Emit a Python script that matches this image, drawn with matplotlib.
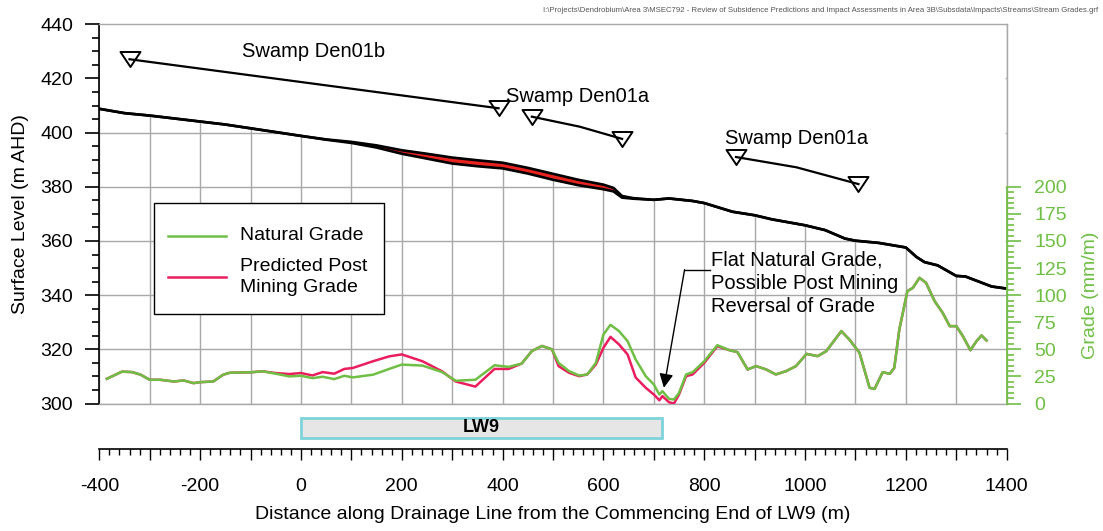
import matplotlib
matplotlib.use("Agg")
import matplotlib.pyplot as plt
from matplotlib.ticker import MultipleLocator, FixedLocator, FuncFormatter
from matplotlib.patches import Rectangle
from matplotlib.lines import Line2D
from matplotlib.path import Path

plt.rcParams['font.family'] = ['Liberation Sans', 'DejaVu Sans']

# Natural surface profile along the drainage line (m AHD)
surface_dist = [-400, -350, -300, -250, -200, -150, -100, -50, 0, 50, 100, 150, 200,
                250, 300, 350, 400, 450, 500, 550, 600, 620, 637, 660, 700, 730, 776,
                800, 856, 900, 934, 1000, 1040, 1079, 1100, 1146, 1200, 1221, 1237,
                1263, 1300, 1318, 1370, 1397]
natural_surface = [408.8, 407.2, 406.3, 405.2, 404.1, 403.0, 401.6, 400.2, 398.8, 397.5,
                   396.6, 395.3, 393.5, 392.2, 390.8, 389.8, 388.9, 387.0, 384.8, 382.6,
                   380.8, 379.6, 376.6, 375.8, 375.2, 375.7, 374.8, 374.0, 370.8, 369.5,
                   368.0, 365.8, 364.0, 360.9, 360.1, 359.3, 357.6, 354.1, 352.2, 351.0,
                   347.1, 346.9, 343.2, 342.5]
# Predicted subsidence at the same chainages (m)
subsidence = [0, 0, 0, 0, 0, 0, 0, 0, 0, 0.1, 0.4, 0.8, 1.3, 1.8, 2.2, 2.2, 2.1, 2.1, 2.2,
              2.0, 1.7, 1.3, 0.6, 0.2, 0, 0, 0, 0, 0, 0, 0, 0, 0, 0, 0, 0, 0, 0, 0, 0,
              0, 0, 0, 0]

# Swamp extents (chainage, m AHD)
den01b_dist = [-340, 392]
den01b_level = [427.1, 409.0]
den01a_upper_dist = [458, 553, 637]
den01a_upper_level = [405.9, 402.2, 397.7]
den01a_lower_dist = [863, 983, 1106]
den01a_lower_level = [391.0, 387.2, 381.0]

# Stream grades (mm/m)
grade_dist = [-385, -355, -335, -318, -300, -279, -252, -233, -213, -200, -174, -154,
              -141, -100, -76, -50, -23, 0, 23, 43, 66, 86, 103, 143, 175, 200, 241,
              280, 307, 346, 384, 412, 438, 458, 478, 498, 511, 532, 552, 568, 585,
              600, 614, 631, 648, 664, 684, 700, 711, 717, 730, 740, 750, 764, 777,
              800, 826, 850, 866, 886, 903, 923, 942, 962, 982, 1003, 1025, 1042,
              1072, 1088, 1108, 1128, 1138, 1154, 1168, 1177, 1187, 1203, 1214, 1227,
              1240, 1257, 1273, 1287, 1300, 1313, 1328, 1340, 1350, 1360]
natural_grade = [22.8, 29.4, 29.0, 26.6, 21.9, 21.9, 20.3, 21.3, 18.8, 19.7, 20.3, 26.6,
                 28.4, 28.8, 29.7, 27.5, 25.0, 25.6, 23.4, 24.7, 22.5, 25.6, 24.1, 26.6,
                 31.9, 35.9, 35.0, 29.0, 21.0, 21.9, 35.3, 33.8, 36.9, 48.4, 53.1, 50.0,
                 37.5, 29.8, 25.8, 26.8, 37.5, 63.7, 72.6, 66.8, 57.5, 40.6, 25.2, 17.5,
                 8.3, 11.4, 4.3, 3.7, 9.8, 26.8, 28.9, 39.0, 53.8, 49.2, 47.4, 31.4,
                 34.5, 31.4, 26.8, 29.8, 34.5, 45.8, 43.7, 48.3, 66.8, 59.0, 46.8, 14.5,
                 13.5, 28.9, 27.4, 32.9, 68.3, 103.7, 106.8, 116.0, 111.4, 94.5, 83.7,
                 71.4, 71.4, 62.2, 49.2, 57.5, 62.8, 58.2]
predicted_grade = [22.8, 29.4, 29.0, 26.6, 21.9, 21.9, 20.3, 21.3, 18.8, 19.7, 20.3, 26.6,
                   28.4, 28.8, 29.7, 28.1, 27.2, 28.1, 25.9, 29.0, 27.5, 31.9, 32.8, 39.0,
                   43.5, 45.3, 39.0, 29.7, 20.3, 15.6, 31.9, 31.9, 36.9, 48.4, 53.1, 50.0,
                   34.5, 28.3, 25.2, 26.8, 36.0, 51.4, 61.5, 54.5, 45.2, 24.0, 14.5, 8.3,
                   3.0, 6.8, 1.2, 0.0, 8.3, 25.2, 26.8, 37.5, 52.9, 49.2, 47.4, 31.4,
                   34.5, 31.4, 26.8, 29.8, 34.5, 45.8, 43.7, 48.3, 66.8, 59.0, 46.8, 14.5,
                   13.5, 28.9, 27.4, 32.9, 68.3, 103.7, 106.8, 116.0, 111.4, 94.5, 83.7,
                   71.4, 71.4, 62.2, 49.2, 57.5, 62.8, 58.2]

# Longwall 9 extent (m from commencing end)
lw9_start, lw9_end = 0, 717

predicted_surface = [n - s for n, s in zip(natural_surface, subsidence)]

GREEN = '#6fbf45'
RED = '#ea1e5e'
GRID = '#a8a8a8'

W, H = 1103, 531
fig = plt.figure(figsize=(W / 100, H / 100), dpi=100)


def fx(px):
    return px / W


def fy(py):
    return 1 - py / H


x0, x1 = 99.3, 1006.7
ax = fig.add_axes([fx(x0), fy(403.5), fx(x1) - fx(x0), fy(24.3) - fy(403.5)])
ax.set_xlim(-400, 1400)
ax.set_ylim(300, 440)
ax.xaxis.set_major_locator(MultipleLocator(100))
ax.yaxis.set_major_locator(MultipleLocator(20))
ax.yaxis.set_minor_locator(MultipleLocator(5))
ax.set_axisbelow(True)
ax.grid(True, color=GRID, lw=1.0)
ax.tick_params(axis='x', which='both', length=0, labelbottom=False)
ax.tick_params(axis='y', which='major', length=10, width=1.2, pad=9, labelsize=14,
               direction='out')
ax.tick_params(axis='y', which='minor', length=5, width=1.2, direction='out')
ax.spines['left'].set_color('black')
ax.spines['left'].set_linewidth(1.2)
for s in ('top', 'right', 'bottom'):
    ax.spines[s].set_color(GRID)
    ax.spines[s].set_linewidth(1.0)
ax.set_ylabel('Surface Level (m AHD)', fontsize=14)
ax.yaxis.set_label_coords(-0.077, 0.5)

# blank out the grid above the ground surface
ax.fill_between(surface_dist, natural_surface, 440, color='white', lw=0, zorder=1)
ax.fill_between(surface_dist, natural_surface, predicted_surface, color='#e8231f',
                lw=0, zorder=2)
ax.plot(surface_dist, predicted_surface, color='black', lw=1.9, zorder=3)
ax.plot(surface_dist, natural_surface, color='black', lw=1.9, zorder=3)

# swamp markers: wide downward triangles
tri = Path([(-1, 0.75), (1, 0.75), (0, -0.75), (-1, 0.75)],
           [Path.MOVETO, Path.LINETO, Path.LINETO, Path.CLOSEPOLY])
for d, lv in ((den01b_dist, den01b_level),
              (den01a_upper_dist, den01a_upper_level),
              (den01a_lower_dist, den01a_lower_level)):
    ax.plot(d, lv, color='black', lw=1.6, zorder=4)
    ax.plot([d[0], d[-1]], [lv[0], lv[-1]], ls='none', marker=tri, ms=14.4,
            mfc='none', mec='black', mew=1.4, zorder=5)

ax.text(-116, 430.1, 'Swamp Den01b', fontsize=14.5, va='center', ha='left', zorder=6)
ax.text(407, 413.5, 'Swamp Den01a', fontsize=14.5, va='center', ha='left', zorder=6)
ax.text(842, 398.0, 'Swamp Den01a', fontsize=14.5, va='center', ha='left', zorder=6)

# grade axis on the right
ax2 = ax.twinx()
ax2.set_ylim(0, 350)
ax2.yaxis.set_major_locator(FixedLocator(list(range(0, 201, 25))))
ax2.yaxis.set_minor_locator(FixedLocator(list(range(0, 201, 5))))
ax2.tick_params(axis='y', which='major', length=10, width=1.2, pad=10, labelsize=14,
                colors=GREEN, direction='out')
ax2.tick_params(axis='y', which='minor', length=5, width=1.2, colors=GREEN,
                direction='out')
for s in ('top', 'bottom', 'left'):
    ax2.spines[s].set_visible(False)
ax2.spines['right'].set_bounds(0, 200)
ax2.spines['right'].set_color(GREEN)
ax2.spines['right'].set_linewidth(1.2)
ax2.set_ylabel('Grade (mm/m)', fontsize=14, color=GREEN)
ax2.yaxis.set_label_coords(1.083, 100 / 350)

ax2.plot(grade_dist, predicted_grade, color=RED, lw=1.8, zorder=3)
ax2.plot(grade_dist, natural_grade, color=GREEN, lw=1.8, zorder=4)

# key box
tf = fig.transFigure
fig.add_artist(Rectangle((fx(154), fy(314)), fx(384) - fx(154), fy(203) - fy(314),
                         transform=tf, facecolor='white', edgecolor='black', lw=1.0,
                         zorder=10))
fig.add_artist(Line2D([fx(168), fx(226)], [fy(236), fy(236)], color=GREEN, lw=1.8,
                      transform=tf, zorder=11))
fig.add_artist(Line2D([fx(168), fx(226)], [fy(277), fy(277)], color=RED, lw=1.8,
                      transform=tf, zorder=11))
fig.text(fx(240), fy(236), 'Natural Grade', fontsize=14, va='center', ha='left',
         zorder=11)
fig.text(fx(240), fy(277), 'Predicted Post\nMining Grade', fontsize=14, va='center',
         ha='left', linespacing=1.38, zorder=11)

ax2.plot([761, 811], [123.5, 123.5], color='black', lw=1.0, zorder=6)
ax2.annotate('', xy=(720, 14.5), xytext=(761, 123.5),
             arrowprops=dict(arrowstyle='-|>,head_length=0.6,head_width=0.3',
                             color='black', lw=1.0, mutation_scale=14,
                             shrinkA=0, shrinkB=0), zorder=6)
ax2.text(813, 111, 'Flat Natural Grade,\nPossible Post Mining\nReversal of Grade',
         fontsize=14.5, ha='left', va='center', linespacing=1.3, zorder=6)

# chainage axis with the longwall panel
ax3 = fig.add_axes([fx(x0), fy(449), fx(x1) - fx(x0), fy(410) - fy(449)])
ax3.set_xlim(-400, 1400)
ax3.set_ylim(0, 1)
ax3.patch.set_visible(False)
for s in ('top', 'left', 'right'):
    ax3.spines[s].set_visible(False)
ax3.spines['bottom'].set_linewidth(1.2)
ax3.set_yticks([])
ax3.xaxis.set_major_locator(MultipleLocator(100))
ax3.xaxis.set_minor_locator(MultipleLocator(20))
ax3.xaxis.set_major_formatter(
    FuncFormatter(lambda v, p: f'{v:.0f}' if round(v) % 200 == 0 else ''))
ax3.tick_params(axis='x', which='major', length=8, width=1.0, pad=13, labelsize=14)
ax3.tick_params(axis='x', which='minor', length=4.3, width=1.0)
ax3.set_xlabel('Distance along Drainage Line from the Commencing End of LW9 (m)',
               fontsize=14, labelpad=8)
ax3.add_patch(Rectangle((lw9_start, 0.282), lw9_end - lw9_start, 0.795 - 0.282,
                        facecolor='#e6e6e6', edgecolor='#7fd3db', lw=2))
ax3.text((lw9_start + lw9_end) / 2, 0.54, 'LW9', ha='center', va='center',
         fontweight='bold', fontsize=13)

fig.text(fx(1098), fy(10),
         r'I:\Projects\Dendrobium\Area 3\MSEC792 - Review of Subsidence Predictions '
         r'and Impact Assessments in Area 3B\Subsdata\Impacts\Streams\Stream Grades.grf',
         fontsize=5.6, color='#555555', ha='right', va='center')

fig.savefig('out.png', dpi=100)
